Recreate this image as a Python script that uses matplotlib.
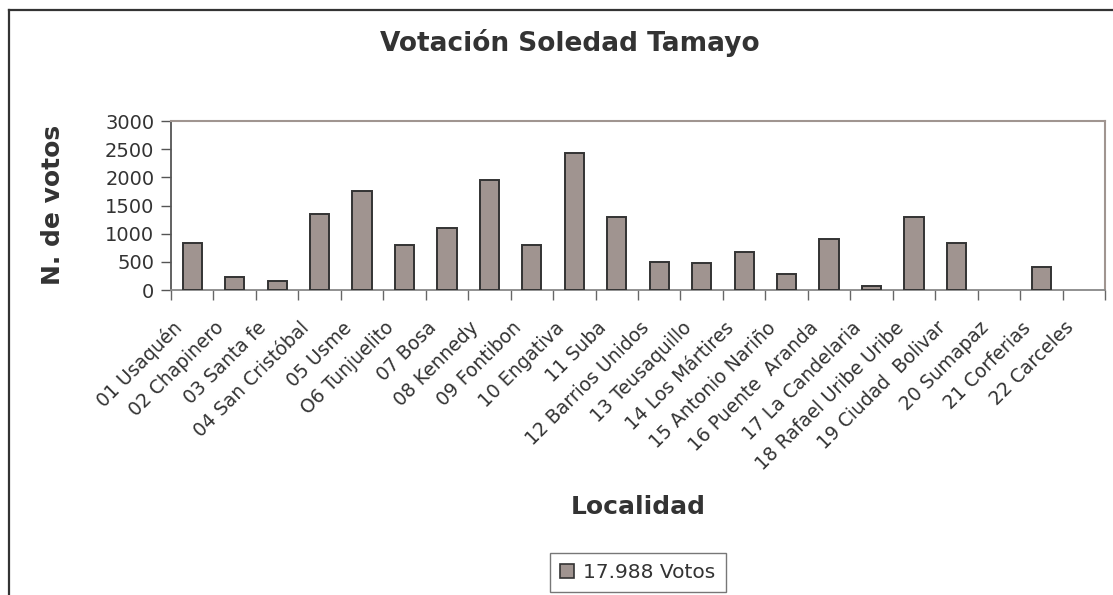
import matplotlib
matplotlib.use("Agg")
import matplotlib.pyplot as plt
from matplotlib.lines import Line2D
from matplotlib.patches import Patch
from matplotlib.transforms import ScaledTranslation

categories = ["01 Usaquén", "02 Chapinero", "03 Santa fe", "04 San Cristóbal", "05 Usme",
              "O6 Tunjuelito", "07 Bosa", "08 Kennedy", "09 Fontibon", "10 Engativa",
              "11 Suba", "12 Barrios Unidos", "13 Teusaquillo", "14 Los Mártires",
              "15 Antonio Nariño", "16 Puente  Aranda", "17 La Candelaria",
              "18 Rafael Uribe Uribe", "19 Ciudad  Bolivar", "20 Sumapaz",
              "21 Corferias", "22 Carceles"]
votos = [830, 236, 165, 1352, 1754, 797, 1093, 1949, 797, 2439,
         1288, 502, 472, 667, 278, 898, 77, 1288, 827, 0, 402, 0]
yticks = [0, 500, 1000, 1500, 2000, 2500, 3000]
title = "Votación Soledad Tamayo"
ylabel = "N. de votos"
xlabel = "Localidad"
series_label = "17.988 Votos"

TXT = "#333333"
plt.rcParams['font.family'] = ['DejaVu Sans']

fig = plt.figure(figsize=(11.13, 5.95), dpi=100)
ax = fig.add_axes([171/1113, 1-290/595, (1105-171)/1113, (290-121)/595])

x = list(range(len(categories)))
edges = ["#333333" if v > 0 else "none" for v in votos]
ax.bar(x, votos, width=0.45, color="#a09490", edgecolor=edges, linewidth=1.4, zorder=3)

ax.set_xlim(-0.5, len(categories) - 0.5)
ax.set_ylim(0, 3000)
ax.set_yticks(yticks)
ax.set_yticklabels([str(v) for v in yticks], fontsize=14, color=TXT)
ax.tick_params(axis='y', direction='out', length=7, width=1, color="#555555", pad=5)

# category boundaries as ticks, labels at centers
ax.set_xticks([i - 0.5 for i in range(len(categories) + 1)])
ax.set_xticklabels([])
ax.set_xticks(x, minor=True)
ax.set_xticklabels(categories, minor=True, rotation=45, ha='right', va='top',
                   rotation_mode='anchor', fontsize=13.5, color=TXT)
ax.tick_params(axis='x', which='major', direction='out', length=7, width=1, color="#666666")
ax.tick_params(axis='x', which='minor', length=0, pad=8)
off = ScaledTranslation(-0.20, -0.17, fig.dpi_scale_trans)
for lab in ax.get_xticklabels(minor=True):
    lab.set_transform(lab.get_transform() + off)

for s in ['top', 'right']:
    ax.spines[s].set_color("#a09590")
    ax.spines[s].set_linewidth(1.5)
ax.spines['left'].set_color("#555555")
ax.spines['left'].set_linewidth(1.3)
ax.spines['bottom'].set_color("#888888")
ax.spines['bottom'].set_linewidth(1.3)

fig.text(570/1113, 1-43/595, title, ha='center', va='center', fontsize=19,
         fontweight='bold', color=TXT)
fig.text(53/1113, 1-205/595, ylabel, ha='center', va='center', rotation=90,
         fontsize=18, fontweight='bold', color=TXT)
fig.text(638/1113, 1-507/595, xlabel, ha='center', va='center', fontsize=18,
         fontweight='bold', color=TXT)

handle = Patch(facecolor="#a09490", edgecolor="#333333", linewidth=1.2)
leg = fig.legend([handle], [series_label], loc='upper center',
                 bbox_to_anchor=(638/1113, 1-553/595), fontsize=14.5,
                 frameon=True, fancybox=False, handlelength=0.7, handleheight=0.7,
                 handletextpad=0.45, borderpad=0.5, borderaxespad=0)
leg.get_frame().set_edgecolor("#555555")
leg.get_frame().set_linewidth(1.0)
for t in leg.get_texts():
    t.set_color(TXT)

# outer chart border (cut off at right and bottom)
fig.add_artist(Line2D([9/1113, 1.0], [1-10/595, 1-10/595], transform=fig.transFigure,
                      color="#333333", linewidth=1.6))
fig.add_artist(Line2D([9/1113, 9/1113], [0.0, 1-10/595], transform=fig.transFigure,
                      color="#333333", linewidth=1.6))

fig.savefig("out.png", dpi=100)
